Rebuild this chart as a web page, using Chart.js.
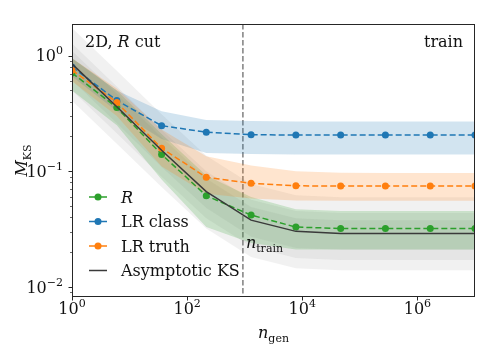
<!DOCTYPE html>
<html><head><meta charset="utf-8">
<script src="https://cdn.jsdelivr.net/npm/chart.js@4/dist/chart.umd.min.js"></script>
<style>html,body{margin:0;padding:0;background:#fff}</style>
</head><body>
<canvas id="c" width="493" height="352"></canvas>
<script>
// ---- data ----
const nGen = [1, 6, 36, 215, 1290, 7740, 46400, 278000, 1670000, 10000000];
const ksR       = [0.71, 0.356, 0.140, 0.0614, 0.0418, 0.0329, 0.0320, 0.0320, 0.0320, 0.0320];
const ksLRclass = [0.80, 0.410, 0.248, 0.218, 0.207, 0.206, 0.206, 0.206, 0.206, 0.206];
const ksLRtruth = [0.75, 0.394, 0.158, 0.0887, 0.0787, 0.0748, 0.0746, 0.0746, 0.0746, 0.0746];
const ksAsym    = [0.85, 0.361, 0.152, 0.0666, 0.0378, 0.0302, 0.0290, 0.0290, 0.0290, 0.0290];
const rLo       = [0.50, 0.25, 0.085, 0.033, 0.024, 0.021, 0.021, 0.021, 0.021, 0.021];
const rHi       = [0.95, 0.50, 0.21, 0.092, 0.060, 0.047, 0.0453, 0.0453, 0.0453, 0.0453];
const classLo   = [0.66, 0.33, 0.19, 0.144, 0.141, 0.140, 0.140, 0.140, 0.140, 0.140];
const classHi   = [0.95, 0.50, 0.33, 0.278, 0.272, 0.270, 0.270, 0.270, 0.270, 0.270];
const truthLo   = [0.60, 0.30, 0.11, 0.064, 0.058, 0.0558, 0.0556, 0.0556, 0.0556, 0.0556];
const truthHi   = [0.95, 0.52, 0.23, 0.135, 0.112, 0.100, 0.097, 0.0965, 0.0965, 0.0965];
const asym1Lo   = [0.612, 0.26, 0.109, 0.048, 0.0272, 0.0217, 0.0209, 0.0209, 0.0209, 0.0209];
const asym1Hi   = [1.10, 0.47, 0.198, 0.0866, 0.049, 0.0393, 0.0377, 0.0377, 0.0377, 0.0377];
const asym2Lo   = [0.50, 0.213, 0.0897, 0.0393, 0.0223, 0.0178, 0.0171, 0.0171, 0.0171, 0.0171];
const asym2Hi   = [1.275, 0.54, 0.228, 0.100, 0.0567, 0.0453, 0.0435, 0.0435, 0.0435, 0.0435];
const asym3Lo   = [0.408, 0.173, 0.073, 0.032, 0.0181, 0.0145, 0.0139, 0.0139, 0.0139, 0.0139];
const asym3Hi   = [1.74, 0.74, 0.312, 0.1365, 0.0775, 0.0619, 0.0595, 0.0595, 0.0595, 0.0595];
const nTrain = 930;
const xTicks = [1, 100, 10000, 1000000];
const xTickExp = ['0', '2', '4', '6'];
const yTicks = [0.01, 0.1, 1];
const yTickExp = ['\u22122', '\u22121', '0'];
const xRange = [1, 10000000];
const yRange = [0.00817, 1.88];
const seriesLabels = ['R', 'LR class', 'LR truth', 'Asymptotic KS'];

// ---- styling ----
const C_BLUE = '#1f77b4', C_ORANGE = '#ff7f0e', C_GREEN = '#2ca02c', C_BLACK = '#3a3a3a';
const FONT = '"DejaVu Serif"';
const pts = arr => nGen.map((x, i) => ({x: x, y: arr[i]}));

function band(lo, hi, color, order) {
  return [
    {data: pts(lo), borderWidth: 0, pointRadius: 0, fill: false, order: order, clip: 0, isBand: true},
    {data: pts(hi), borderWidth: 0, pointRadius: 0, fill: '-1', backgroundColor: color, order: order, clip: 0, isBand: true}
  ];
}
function line(arr, color, label, order, dashed, markers) {
  return {label: label, data: pts(arr), borderColor: color, backgroundColor: color,
    borderWidth: 1.5, borderDash: dashed ? [6, 3] : [], pointRadius: markers ? 3.5 : 0,
    pointBorderWidth: 0, pointBackgroundColor: color, fill: false, order: order, clip: 0};
}

const datasets = [
  ...band(asym3Lo, asym3Hi, 'rgba(128,128,128,0.11)', 30),
  ...band(asym2Lo, asym2Hi, 'rgba(128,128,128,0.11)', 29),
  ...band(asym1Lo, asym1Hi, 'rgba(128,128,128,0.11)', 28),
  ...band(rLo, rHi, 'rgba(44,160,44,0.2)', 20),
  ...band(classLo, classHi, 'rgba(31,119,180,0.2)', 19),
  ...band(truthLo, truthHi, 'rgba(255,127,14,0.2)', 18),
  line(ksR, C_GREEN, seriesLabels[0], 4, true, true),
  line(ksLRclass, C_BLUE, seriesLabels[1], 3, true, true),
  line(ksLRtruth, C_ORANGE, seriesLabels[2], 2, true, true),
  line(ksAsym, C_BLACK, seriesLabels[3], 1, false, false)
];

function drawPow(ctx, x, yb, exp, align) {
  ctx.font = '16px ' + FONT;
  const wb = ctx.measureText('10').width;
  ctx.font = '11px ' + FONT;
  const we = ctx.measureText(exp).width;
  let x0 = align === 'right' ? x - wb - we : x - (wb + we) / 2;
  ctx.textAlign = 'left';
  ctx.textBaseline = 'alphabetic';
  ctx.font = '16px ' + FONT;
  ctx.fillText('10', x0, yb);
  ctx.font = '11px ' + FONT;
  ctx.fillText(exp, x0 + wb, yb - 7);
}

function richText(ctx, parts, x, y, align) {
  // parts: [text, style('n'|'i'|'sub'), ]
  const fonts = {n: '16px ' + FONT, i: 'italic 16px ' + FONT, sub: '11px ' + FONT};
  let total = 0;
  parts.forEach(p => { ctx.font = fonts[p[1]]; total += ctx.measureText(p[0]).width; });
  let cx = align === 'right' ? x - total : (align === 'center' ? x - total / 2 : x);
  ctx.textAlign = 'left';
  ctx.textBaseline = 'alphabetic';
  parts.forEach(p => {
    ctx.font = fonts[p[1]];
    ctx.fillText(p[0], cx, y + (p[1] === 'sub' ? 4 : 0));
    cx += ctx.measureText(p[0]).width;
  });
}

const decor = {
  id: 'decor',
  beforeDatasetsDraw(chart) {
    const ctx = chart.ctx, a = chart.chartArea, xs = chart.scales.x;
    // vertical n_train line
    const px = xs.getPixelForValue(nTrain);
    ctx.save();
    ctx.strokeStyle = '#808080';
    ctx.lineWidth = 1.5;
    ctx.setLineDash([5.5, 2.5]);
    ctx.beginPath(); ctx.moveTo(px, a.top); ctx.lineTo(px, a.bottom); ctx.stroke();
    ctx.restore();
  },
  afterDraw(chart) {
    const ctx = chart.ctx, a = chart.chartArea, xs = chart.scales.x, ys = chart.scales.y;
    ctx.save();
    // frame
    ctx.strokeStyle = '#262626';
    ctx.lineWidth = 1;
    ctx.strokeRect(Math.round(a.left) + 0.5, Math.round(a.top) + 0.5,
      Math.round(a.right - a.left) - 1, Math.round(a.bottom - a.top) - 1);
    // ticks
    ctx.beginPath();
    xTicks.forEach(v => {
      const p = Math.round(xs.getPixelForValue(v)) + 0.5;
      ctx.moveTo(p, a.bottom); ctx.lineTo(p, a.bottom + 3.5);
    });
    yTicks.forEach(v => {
      const p = Math.round(ys.getPixelForValue(v)) + 0.5;
      ctx.moveTo(a.left, p); ctx.lineTo(a.left - 3.5, p);
    });
    ctx.stroke();
    ctx.lineWidth = 0.7;
    ctx.beginPath();
    [0.001, 0.01, 0.1].forEach(dec => {
      for (let m = 2; m <= 9; m++) {
        const v = dec * m;
        if (v < yRange[0] || v > yRange[1]) continue;
        const p = Math.round(ys.getPixelForValue(v)) + 0.5;
        ctx.moveTo(a.left, p); ctx.lineTo(a.left - 2, p);
      }
    });
    ctx.stroke();
    // tick labels
    ctx.fillStyle = '#111';
    xTicks.forEach((v, i) => drawPow(ctx, xs.getPixelForValue(v), 314, xTickExp[i], 'center'));
    yTicks.forEach((v, i) => drawPow(ctx, 63, ys.getPixelForValue(v) + 5.8, yTickExp[i], 'right'));
    // axis labels
    richText(ctx, [['n', 'i'], ['gen', 'sub']], (a.left + a.right) / 2, 338, 'center');
    ctx.save();
    ctx.translate(27, (a.top + a.bottom) / 2);
    ctx.rotate(-Math.PI / 2);
    richText(ctx, [['M', 'i'], ['KS', 'sub']], 0, 0, 'center');
    ctx.restore();
    // annotations
    richText(ctx, [['2D, ', 'n'], ['R', 'i'], [' cut', 'n']], 85, 47, 'left');
    richText(ctx, [['train', 'n']], 463, 47, 'right');
    richText(ctx, [['n', 'i'], ['train', 'sub']], xs.getPixelForValue(nTrain) + 3, 248, 'left');
    // legend
    const rows = [[C_GREEN, true, [['R', 'i']]], [C_BLUE, true, [['LR class', 'n']]],
                  [C_ORANGE, true, [['LR truth', 'n']]], [C_BLACK, false, [['Asymptotic KS', 'n']]]];
    rows.forEach((r, i) => {
      const y = 197 + i * 24.5;
      ctx.strokeStyle = r[0]; ctx.fillStyle = r[0]; ctx.lineWidth = 1.5;
      ctx.setLineDash([]);
      ctx.beginPath(); ctx.moveTo(89, y); ctx.lineTo(107, y); ctx.stroke();
      if (r[1]) { ctx.beginPath(); ctx.arc(98, y, 3.5, 0, Math.PI * 2); ctx.fill(); }
      ctx.fillStyle = '#111';
      richText(ctx, r[2], 121, y + 5.8, 'left');
    });
    ctx.restore();
  }
};

new Chart(document.getElementById('c'), {
  type: 'line',
  data: {datasets: datasets},
  options: {
    responsive: false, animation: false, events: [],
    layout: {padding: {left: 72, top: 24, right: 18, bottom: 55}},
    plugins: {legend: {display: false}, tooltip: {enabled: false}},
    scales: {
      x: {type: 'logarithmic', min: xRange[0], max: xRange[1], bounds: 'data',
          ticks: {display: false}, grid: {display: false}, border: {display: false},
          afterFit: s => { s.height = 0; }},
      y: {type: 'logarithmic', min: yRange[0], max: yRange[1], bounds: 'data',
          ticks: {display: false}, grid: {display: false}, border: {display: false},
          afterFit: s => { s.width = 0; }}
    }
  },
  plugins: [decor]
});
</script>
</body></html>
